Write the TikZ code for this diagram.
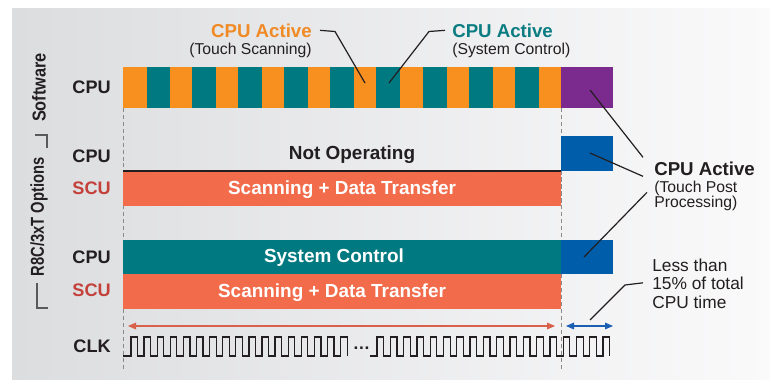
\documentclass[tikz,border=0pt]{standalone}
\usepackage{fontspec}
\setmainfont{Liberation Sans}
\usepackage{graphicx}
\usetikzlibrary{arrows.meta}

\definecolor{cpuorange}{HTML}{F7901E}
\definecolor{cputeal}{HTML}{007A80}
\definecolor{cpupurple}{HTML}{7B2A8E}
\definecolor{cpublue}{HTML}{005DAA}
\definecolor{scufill}{HTML}{F26B4A}
\definecolor{scutext}{HTML}{C4403A}
\definecolor{ink}{HTML}{231F20}
\definecolor{gridgray}{HTML}{8A8A8A}
\definecolor{bracketgray}{HTML}{5A5A5A}
\definecolor{redarrow}{HTML}{D9604A}
\definecolor{bluearrow}{HTML}{1A5FB4}
\definecolor{orangetext}{HTML}{F08A24}
\definecolor{tealtext}{HTML}{0B7D82}
\definecolor{bgleft}{HTML}{DCDDDF}
\definecolor{bgright}{HTML}{FAFAFB}

\tikzset{
  rowlabel/.style={font=\fontsize{13.6}{16}\selectfont\bfseries, text=ink, inner sep=0pt, anchor=base east},
  bartext/.style={font=\fontsize{14.2}{17}\selectfont\bfseries, inner sep=0pt, anchor=base},
  sidelabel/.style={font=\fontsize{14}{16}\selectfont\bfseries, text=ink, inner sep=0pt, rotate=90},
  headline/.style={font=\fontsize{14}{17}\selectfont\bfseries, inner sep=0pt},
  subline/.style={font=\fontsize{11.8}{14}\selectfont, text=ink, inner sep=0pt},
  noteline/.style={font=\fontsize{13}{15}\selectfont, text=ink, inner sep=0pt, anchor=base west},
  leader/.style={draw=ink, line width=0.9pt},
  guide/.style={draw=gridgray, line width=0.6pt, dash pattern=on 3pt off 2.2pt},
  bracketline/.style={draw=bracketgray, line width=0.8pt},
  clock/.style={draw=ink, line width=0.95pt},
  timespan/.style={line width=0.8pt, arrows={Triangle[length=6pt,width=5pt]-Triangle[length=6pt,width=5pt]}},
}

\begin{document}
\begin{tikzpicture}[x=0.75pt, y=-0.75pt]
\useasboundingbox (0,0) rectangle (770,379);

% panel background
\shade[left color=bgleft, right color=bgright] (12,8) rectangle (770,379);

% vertical time guides
\draw[guide] (123,108) -- (123,369);
\draw[guide] (561,108) -- (561,369);

% software: CPU alternates between scanning and system control
\foreach \xa/\xb/\c in {123/146.7/cpuorange, 146.7/170/cputeal, 170/192/cpuorange,
    192/216/cputeal, 216/238/cpuorange, 238/262/cputeal, 262/284/cpuorange,
    284/308/cputeal, 308/330/cpuorange, 330/354/cputeal, 354/376/cpuorange,
    376/400/cputeal, 400/423/cpuorange, 423/447/cputeal, 447/469/cpuorange,
    469/493/cputeal, 493/515/cpuorange, 515/539/cputeal, 539/561/cpuorange}
  \fill[\c] (\xa,67) rectangle (\xb+0.4,108);
\fill[cpupurple] (561,67) rectangle (613,108);

% option 1: CPU idle while SCU scans
\fill[cpublue] (561,136) rectangle (613,171);
\fill[scufill] (123,171) rectangle (561,206);
\draw[ink, line width=1.1pt] (123,171) -- (561,171);

% option 2: CPU runs system control while SCU scans
\fill[cputeal] (123,240) rectangle (561,274);
\fill[cpublue] (561,240) rectangle (613,274);
\fill[scufill] (123,274) rectangle (561,309);

% guide stays visible across the SCU bars
\draw[guide] (561,171) -- (561,206);
\draw[guide] (561,274) -- (561,309);

% row labels
\node[rowlabel] (cpuA) at (111,93) {CPU};
\node[rowlabel] (cpuB) at (111,162) {CPU};
\node[rowlabel, text=scutext] (scuB) at (111,194) {SCU};
\node[rowlabel] (cpuC) at (111,263) {CPU};
\node[rowlabel, text=scutext] (scuC) at (111,296) {SCU};
\node[rowlabel] (clk) at (111,352) {CLK};

% side group labels
\node[sidelabel] (software) at (39,87.5) {\scalebox{0.875}[1]{Software}};
\node[sidelabel] (options) at (39,217) {\scalebox{0.79}[1]{R8C/3xT Options}};
\draw[bracketline] (35,135) -- (47,135) -- (47,148);
\draw[bracketline] (37,283) -- (37,308) -- (48,308);

% bar texts
\node[bartext, text=ink] (notop) at (352,159) {Not Operating};
\node[bartext, text=white] (scanB) at (342,194) {Scanning + Data Transfer};
\node[bartext, text=white] (sysctl) at (334,262) {System Control};
\node[bartext, text=white] (scanC) at (332,297) {Scanning + Data Transfer};

% headline callouts above the software row
\node[headline, text=orangetext, anchor=base east] (actA) at (312,37) {CPU Active};
\node[subline, anchor=base east] (actAsub) at (312,54) {(Touch Scanning)};
\node[headline, text=tealtext, anchor=base west] (actB) at (452,37) {CPU Active};
\node[subline, anchor=base west] (actBsub) at (452,54) {(System Control)};

\coordinate (tipA) at (365,83);
\coordinate (tipB) at (389,83);
\draw[leader] ([xshift=6pt]actA.east) -- (335,31.5) -- (tipA);
\draw[leader] ([xshift=-5.25pt]actB.west) -- (429,31.5) -- (tipB);

% post-processing callout
\node[headline, text=ink, anchor=base west] (actC) at (654,175) {CPU Active};
\node[subline, anchor=base west] (actCsubA) at (654,192) {(Touch Post};
\node[subline, anchor=base west] (actCsubB) at (654,207) {Processing)};

\coordinate (tipP) at (590,90);
\coordinate (tipQ) at (590,153);
\coordinate (tipR) at (584,257);
\draw[leader] (tipP) -- ([xshift=-8.25pt,yshift=8.25pt]actC.west);
\draw[leader] (tipQ) -- ([xshift=-8.25pt,yshift=-6pt]actC.west);
\draw[leader] (tipR) -- ([xshift=-5.25pt,yshift=-18pt]actC.west);

% share of CPU time
\node[noteline] (lessA) at (652,271) {Less than};
\node[noteline] (lessB) at (652,289) {15\% of total};
\node[noteline] (lessC) at (652,308) {CPU time};

% time spans
\coordinate (redL) at (128,326);
\coordinate (redR) at (555,326);
\coordinate (blueL) at (566,326);
\coordinate (blueR) at (613,326);
\draw[timespan, redarrow] (redL) -- (redR);
\draw[timespan, bluearrow] (blueL) -- (blueR);

\coordinate (tipL) at (590,320);
\draw[leader] ([xshift=-6.75pt]lessB.west) -- (625,285) -- (tipL);

% clock trace
\draw[clock] (123,356) -- (131,356)
  \foreach \k in {1,...,16} { -- ++(0,-19) -- ++(6.55,0) -- ++(0,19) -- ++(6.55,0) }
  -- ++(0,-19) -- ++(6.55,0) -- ++(0,19);
\node[font=\fontsize{13}{15}\selectfont\bfseries, text=ink, inner sep=0pt] (gap) at (361.5,348) {…};
\draw[clock] (370,356) -- (377,356)
  \foreach \k in {1,...,17} { -- ++(0,-19) -- ++(6.65,0) -- ++(0,19) -- ++(6.65,0) }
  -- ++(0,-19) -- ++(6.65,0) -- ++(0,19);
\end{tikzpicture}
\end{document}
